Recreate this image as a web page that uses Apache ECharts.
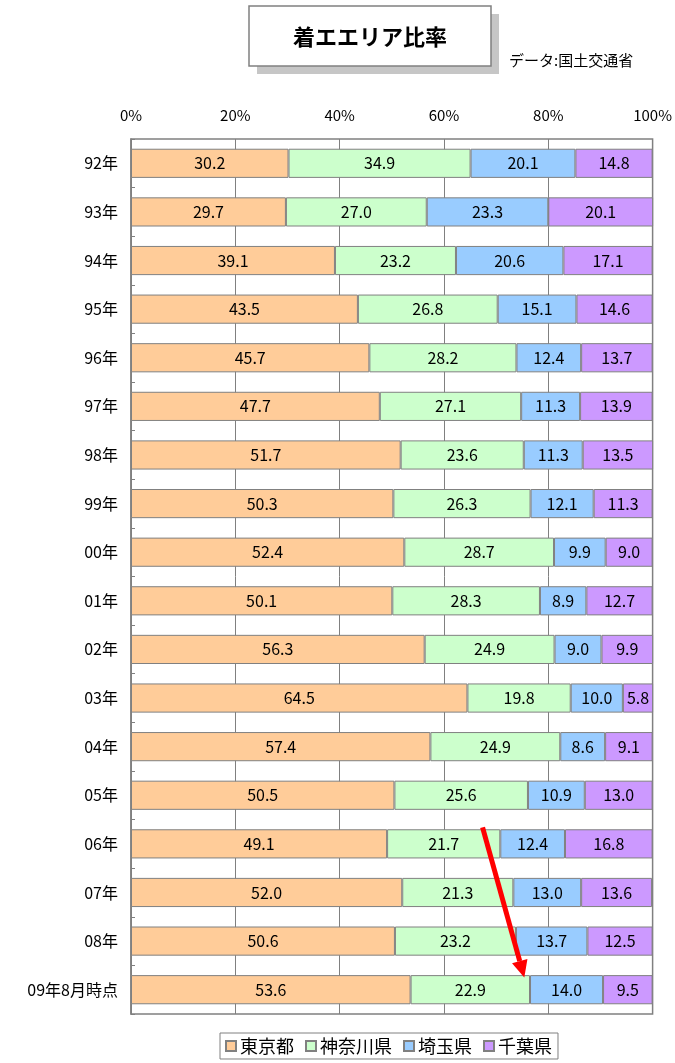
<!DOCTYPE html>
<html>
<head>
<meta charset="utf-8">
<script src="https://cdn.jsdelivr.net/npm/echarts@6/dist/echarts.min.js"></script>
<style>
  html, body { margin: 0; padding: 0; background: #fff; }
  #chart { width: 675px; height: 1063px; }
</style>
</head>
<body>
<div id="chart"></div>
<script>
// Arrival-area share by year (%)
const categories = ['92年','93年','94年','95年','96年','97年','98年','99年','00年','01年','02年','03年','04年','05年','06年','07年','08年','09年8月時点'];
const tokyo    = [30.2, 29.7, 39.1, 43.5, 45.7, 47.7, 51.7, 50.3, 52.4, 50.1, 56.3, 64.5, 57.4, 50.5, 49.1, 52.0, 50.6, 53.6];
const kanagawa = [34.9, 27.0, 23.2, 26.8, 28.2, 27.1, 23.6, 26.3, 28.7, 28.3, 24.9, 19.8, 24.9, 25.6, 21.7, 21.3, 23.2, 22.9];
const saitama  = [20.1, 23.3, 20.6, 15.1, 12.4, 11.3, 11.3, 12.1,  9.9,  8.9,  9.0, 10.0,  8.6, 10.9, 12.4, 13.0, 13.7, 14.0];
const chiba    = [14.8, 20.1, 17.1, 14.6, 13.7, 13.9, 13.5, 11.3,  9.0, 12.7,  9.9,  5.8,  9.1, 13.0, 16.8, 13.6, 12.5,  9.5];
const seriesNames = ['東京都', '神奈川県', '埼玉県', '千葉県'];
const xTicks = [0, 20, 40, 60, 80, 100];

const FONT = '"Noto Sans CJK JP", "Noto Sans", sans-serif';
const colors = ['#FFCC99', '#CCFFCC', '#99CCFF', '#CC99FF'];
const values = [tokyo, kanagawa, saitama, chiba];

const chart = echarts.init(document.getElementById('chart'), null, { renderer: 'canvas' });

const series = seriesNames.map((name, i) => ({
  name,
  type: 'bar',
  stack: 'share',
  barWidth: '60%',
  data: values[i],
  itemStyle: { color: colors[i], borderColor: '#808080', borderWidth: 1 },
  label: {
    show: true,
    position: 'inside',
    color: '#000',
    fontFamily: FONT,
    fontSize: 16,
    formatter: p => p.value.toFixed(1)
  },
  emphasis: { disabled: true }
}));

chart.setOption({
  animation: false,
  backgroundColor: '#fff',
  grid: {
    left: 131, right: 17, top: 139, bottom: 49,
    show: true, borderColor: '#808080', borderWidth: 1.5, backgroundColor: '#fff'
  },
  xAxis: {
    type: 'value',
    position: 'top',
    min: xTicks[0], max: xTicks[xTicks.length - 1], interval: 20,
    axisLine: { show: false },
    axisTick: { show: false },
    axisLabel: { formatter: '{value}%', fontFamily: FONT, fontSize: 15, color: '#000', margin: 16 },
    splitLine: { show: true, lineStyle: { color: '#808080', width: 1 } }
  },
  yAxis: {
    type: 'category',
    inverse: true,
    data: categories,
    axisLine: { show: true, lineStyle: { color: '#808080', width: 1.5 } },
    axisTick: { show: true, inside: true, length: 4, lineStyle: { color: '#808080' } },
    axisLabel: { fontFamily: FONT, fontSize: 16, color: '#000', margin: 13 }
  },
  legend: {
    data: seriesNames,
    left: 220, top: 1033,
    padding: [4, 6, 4, 5],
    itemWidth: 10, itemHeight: 10, itemGap: 11,
    borderColor: '#808080', borderWidth: 1, backgroundColor: '#fff',
    textStyle: { fontFamily: FONT, fontSize: 18, color: '#000', padding: [0, 0, 0, -1] },
    icon: 'rect'
  },
  series
});

// Red trend arrow from the 06年 row down to the 09年 row, placed in axis coordinates
function rowPoint(pct, catIndex, rowOffset) {
  const a = chart.convertToPixel({ gridIndex: 0 }, [pct, categories[catIndex]]);
  const prev = chart.convertToPixel({ gridIndex: 0 }, [pct, categories[catIndex - 1]]);
  const step = a[1] - prev[1];
  return [a[0], a[1] + rowOffset * step];
}
const p0 = rowPoint(67.4, 14, -0.34);
const p1 = rowPoint(75.4, 17, -0.25);
const dx = p1[0] - p0[0], dy = p1[1] - p0[1];
const len = Math.sqrt(dx * dx + dy * dy);
const ux = dx / len, uy = dy / len;
const headLen = 17, headHalf = 8;
const base = [p1[0] - ux * headLen, p1[1] - uy * headLen];

chart.setOption({
  graphic: [
    // title box with shadow
    { type: 'rect', shape: { x: 257, y: 14, width: 242, height: 60 }, style: { fill: '#c6c6c6' }, silent: true },
    { type: 'rect', shape: { x: 249, y: 6, width: 242, height: 60 }, style: { fill: '#fff', stroke: '#808080', lineWidth: 1.5 }, silent: true },
    { type: 'text', x: 370, y: 37, style: { text: '着エエリア比率', fontFamily: FONT, fontSize: 22, fontWeight: 'bold', fill: '#000', align: 'center', verticalAlign: 'middle' }, silent: true },
    { type: 'text', x: 509, y: 60, style: { text: 'データ:国土交通省', fontFamily: FONT, fontSize: 15, fill: '#000', align: 'left', verticalAlign: 'middle' }, silent: true },
    // arrow
    { type: 'line', shape: { x1: p0[0], y1: p0[1], x2: base[0], y2: base[1] }, style: { stroke: '#ff0000', lineWidth: 5 }, silent: true, z: 100 },
    { type: 'polygon', shape: { points: [p1, [base[0] - uy * headHalf, base[1] + ux * headHalf], [base[0] + uy * headHalf, base[1] - ux * headHalf]] }, style: { fill: '#ff0000' }, silent: true, z: 100 }
  ]
});
</script>
</body>
</html>
